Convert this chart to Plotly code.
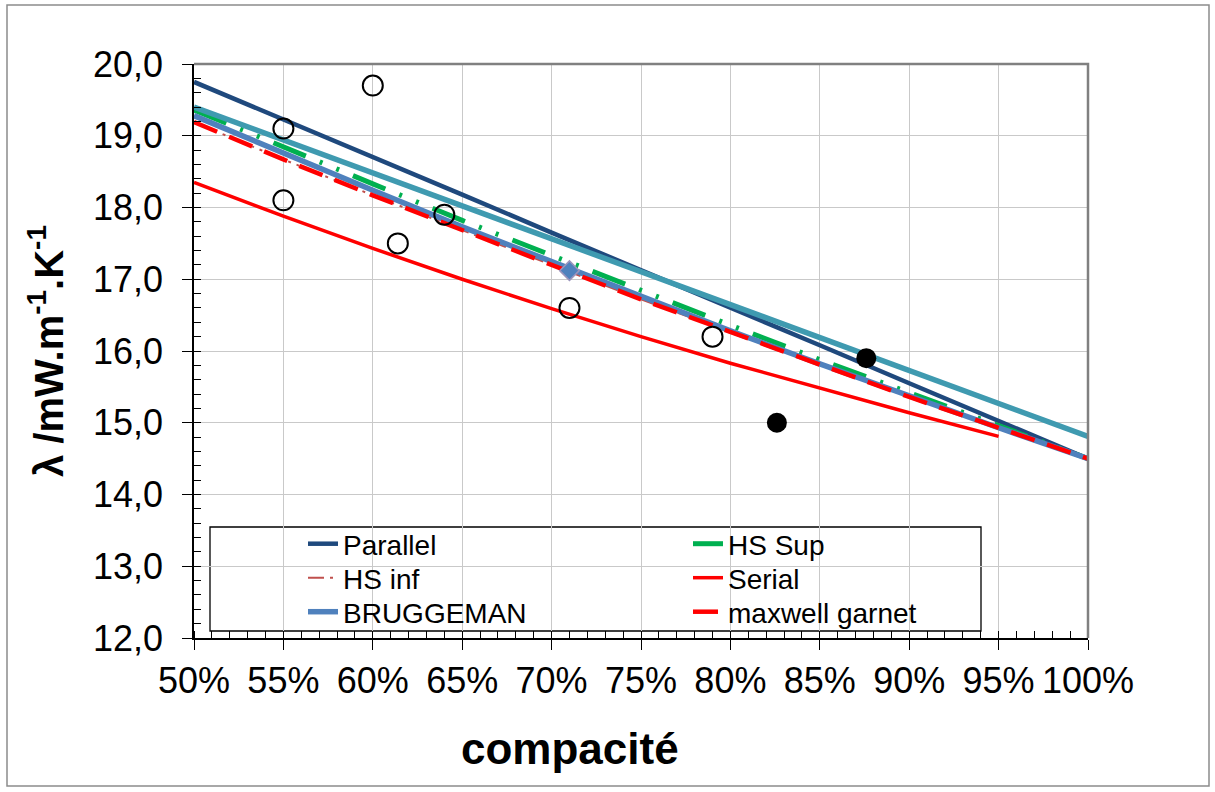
import plotly.graph_objects as go

# Packing fraction (compacité) grid used for the model curves
compacite = [0.50, 0.55, 0.60, 0.65, 0.70, 0.75, 0.80, 0.85, 0.90, 0.95, 1.00]

# Thermal conductivity models, mW.m-1.K-1
parallel = [19.75, 19.23, 18.70, 18.18, 17.65, 17.13, 16.60, 16.08, 15.55, 15.03, 14.50]
hs_sup = [19.36, 18.84, 18.33, 17.82, 17.33, 16.84, 16.36, 15.88, 15.42, 14.96, 14.50]
hs_inf = [19.19, 18.67, 18.17, 17.68, 17.20, 16.72, 16.26, 15.81, 15.36, 14.93, 14.50]
serial_c = [0.50, 0.55, 0.60, 0.65, 0.70, 0.75, 0.80, 0.85, 0.90, 0.95]
serial = [18.35, 17.88, 17.43, 17.00, 16.59, 16.20, 15.83, 15.48, 15.14, 14.81]
bruggeman = [19.28, 18.75, 18.24, 17.73, 17.24, 16.76, 16.28, 15.82, 15.37, 14.93, 14.50]
maxwell = [19.19, 18.67, 18.17, 17.68, 17.20, 16.72, 16.26, 15.81, 15.36, 14.93, 14.50]

# Straight reference line
trend_c = [0.50, 1.00]
trend = [19.40, 14.81]

# Measurements
open_c = [0.55, 0.55, 0.60, 0.614, 0.640, 0.710, 0.790]
open_l = [19.1, 18.1, 19.7, 17.5, 17.9, 16.6, 16.2]
filled_c = [0.826, 0.876]
filled_l = [15.0, 15.9]
point_c = [0.710]
point_l = [17.12]

W_FIG, H_FIG = 1215, 792
L, R, T, B = 194, 127, 64, 154
PW, PH = W_FIG - L - R, H_FIG - T - B
FONT = "Liberation Sans, Arial, sans-serif"


def fx(px):
    return (px - L) / PW


def fy(py):
    return (H_FIG - B - py) / PH


fig = go.Figure()

fig.add_trace(go.Scatter(x=compacite, y=parallel, mode="lines", name="Parallel",
                         line=dict(color="#1F497D", width=4.5), legend="legend"))
fig.add_trace(go.Scatter(x=compacite, y=hs_sup, mode="lines", name="HS Sup",
                         line=dict(color="#00B050", width=5,
                                   dash="35px,15px,3px,15px,3px,15px"),
                         legend="legend"))
fig.add_trace(go.Scatter(x=compacite, y=hs_inf, mode="lines", name="HS inf",
                         line=dict(color="#C0504D", width=2,
                                   dash="16px,6px,3px,6px,3px,6px"),
                         legend="legend2"))
fig.add_trace(go.Scatter(x=serial_c, y=serial, mode="lines", name="Serial",
                         line=dict(color="#FF0000", width=3.5), legend="legend2"))
fig.add_trace(go.Scatter(x=compacite, y=bruggeman, mode="lines", name="BRUGGEMAN",
                         line=dict(color="#4F81BD", width=5.5), legend="legend3"))
fig.add_trace(go.Scatter(x=compacite, y=maxwell, mode="lines", name="maxwell garnet",
                         line=dict(color="#FF0000", width=4.5, dash="25px,13px"),
                         legend="legend3"))
fig.add_trace(go.Scatter(x=trend_c, y=trend, mode="lines", showlegend=False,
                         line=dict(color="#3F9AB0", width=5.5)))
fig.add_trace(go.Scatter(x=open_c, y=open_l, mode="markers", showlegend=False,
                         marker=dict(symbol="circle-open", size=20, color="black",
                                     line=dict(color="black", width=2))))
fig.add_trace(go.Scatter(x=filled_c, y=filled_l, mode="markers", showlegend=False,
                         marker=dict(symbol="circle", size=20, color="black")))
fig.add_trace(go.Scatter(x=point_c, y=point_l, mode="markers", showlegend=False,
                         marker=dict(symbol="diamond", size=15, color="#4F81BD",
                                     line=dict(color="#9A94BC", width=1.5))))

axis_common = dict(
    showline=True, linecolor="black", linewidth=1.5,
    ticks="outside", ticklen=10, tickcolor="black", tickwidth=1.2,
    showgrid=True, gridcolor="#C9C9C9", gridwidth=1.3,
    zeroline=False,
    tickfont=dict(family=FONT, size=36, color="black"),
)

# one two-column legend row per legend object
legend_rows = {}
for i, row_center in enumerate([545, 579, 613]):
    key = "legend" if i == 0 else f"legend{i + 1}"
    legend_rows[key] = dict(
        orientation="h", x=fx(303), y=fy(row_center - 26),
        xanchor="left", yanchor="top",
        bgcolor="rgba(0,0,0,0)", borderwidth=0, itemwidth=30,
        entrywidth=340, entrywidthmode="pixels",
        font=dict(family=FONT, size=28, color="black"),
    )

fig.update_layout(
    width=W_FIG, height=H_FIG,
    margin=dict(l=L, r=R, t=T, b=B),
    paper_bgcolor="white", plot_bgcolor="white",
    separators=", ",
    font=dict(family=FONT, color="black"),
    xaxis=dict(range=[0.5, 1.0], dtick=0.05, tickformat=".0%",
               minor=dict(dtick=0.01, ticks="inside", ticklen=7,
                          tickcolor="black", showgrid=False),
               **axis_common),
    yaxis=dict(range=[12, 20], dtick=1, tickformat=".1f",
               ticklabelstandoff=12,
               minor=dict(dtick=0.2, ticks="inside", ticklen=7,
                          tickcolor="black", showgrid=False),
               title=dict(text="λ /mW.m<sup>-1</sup>.K<sup>-1</sup>",
                          font=dict(family=FONT, size=40, weight="bold", color="black"),
                          standoff=17),
               **axis_common),
    shapes=[
        # chart frame
        dict(type="rect", xref="paper", yref="paper",
             x0=fx(7), x1=fx(1209), y0=fy(786), y1=fy(5),
             line=dict(color="#8C8C8C", width=1.5), fillcolor="rgba(0,0,0,0)",
             layer="below"),
        # legend box
        dict(type="rect", xref="paper", yref="paper",
             x0=fx(210), x1=fx(981), y0=fy(631), y1=fy(527),
             line=dict(color="black", width=1.3), fillcolor="white",
             layer="between"),
        # top and right edges of the plot area
        dict(type="path", xref="paper", yref="paper",
             path="M 0,1 L 1,1 L 1,0",
             line=dict(color="#808080", width=2.5), layer="above"),
    ],
    annotations=[
        dict(text="compacité", xref="paper", yref="paper",
             x=fx(570), y=fy(748), xanchor="center", yanchor="middle",
             showarrow=False,
             font=dict(family=FONT, size=44, weight="bold", color="black")),
    ],
    **legend_rows,
)

fig.write_html("out.html")
